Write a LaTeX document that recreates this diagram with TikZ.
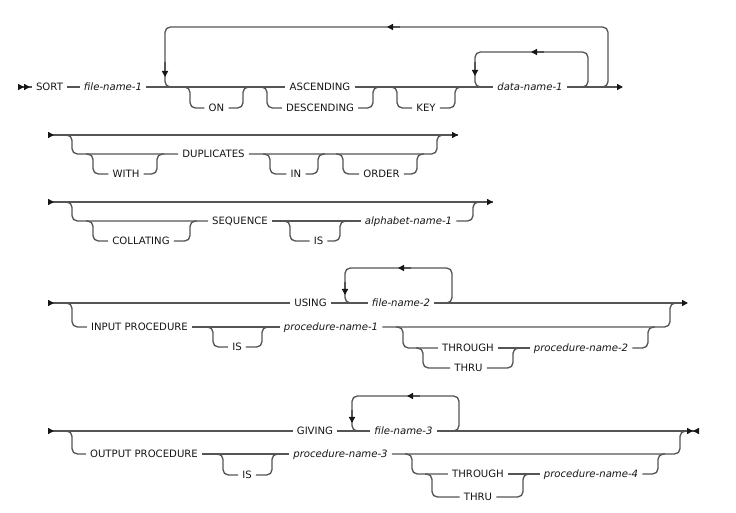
\documentclass[tikz,border=0pt]{standalone}
\usepackage{fontspec}
\newfontfamily\railfont{DejaVu Sans}
\usetikzlibrary{arrows.meta}
\definecolor{ink}{HTML}{161616}
\definecolor{rail}{HTML}{555555}
\tikzset{
  kw/.style={font=\railfont\fontsize{7.6}{8}\selectfont,text=ink,inner xsep=3pt,inner ysep=0pt,text height=5.5pt,text depth=0pt},
  var/.style={kw,font=\railfont\itshape\fontsize{7.6}{8}\selectfont},
  ln/.style={draw=rail,line width=1pt,rounded corners=4pt},
  railin/.style={ln,{Triangle[reversed,length=4.5pt,width=4.5pt,color=ink]}-},
  railin2/.style={ln,{Triangle[reversed,length=4.5pt,width=4.5pt,color=ink]Triangle[reversed,length=4.5pt,width=4.5pt,color=ink]}-},
  railout/.style={ln,-{Triangle[length=4.5pt,width=4.5pt,color=ink]}},
  railend/.style={ln,-{Triangle[length=4.5pt,width=4.5pt,color=ink]Triangle[reversed,length=4.5pt,width=4.5pt,color=ink]}},
  midtip/.style={ln,rounded corners=0pt,-{Triangle[length=4.5pt,width=4.5pt,color=ink]}},
}
\begin{document}
\begin{tikzpicture}[x=0.75pt,y=-0.75pt]
  \useasboundingbox (0,0) rectangle (736,513);

  \coordinate (s1) at (18,87); \coordinate (e1) at (623,87);
  \node[kw] (sort) at (49.5,87) {SORT};
  \node[var] (fn1) at (113,87) {file-name-1};
  \node[kw] (on) at (216.5,108) {ON};
  \node[kw] (asc) at (320,87) {ASCENDING};
  \node[kw] (desc) at (320,108) {DESCENDING};
  \node[kw] (key) at (426,108) {KEY};
  \node[var] (dn1) at (530,87) {data-name-1};
  \draw[railin2] (s1) -- (sort.west);
  \draw[ln] (sort.east) -- (fn1.west);
  \draw[ln] (fn1.east) -- (asc.west);
  \draw[ln] (asc.east) -- (dn1.west);
  \draw[railout] (dn1.east) -- (e1);
  \draw[ln] (183,87) -- (190,87) -- (190,108) -- (on.west);
  \draw[ln] (on.east) -- (243,108) -- (243,87) -- (250,87);
  \draw[ln] (260,87) -- (267,87) -- (267,108) -- (desc.west);
  \draw[ln] (desc.east) -- (373,108) -- (373,87) -- (380,87);
  \draw[ln] (390,87) -- (397,87) -- (397,108) -- (key.west);
  \draw[ln] (key.east) -- (455,108) -- (455,87) -- (462,87);
  \draw[ln] (580,87) -- (588,87) -- (588,52) -- (475,52) -- (475,87) -- (483,87);
  \draw[ln] (600,87) -- (608,87) -- (608,27) -- (165,27) -- (165,87) -- (173,87);
  \draw[midtip] (544,52) -- (531,52);
  \draw[midtip] (475,62) -- (475,76);
  \draw[midtip] (400,27) -- (387,27);
  \draw[midtip] (165,62) -- (165,77);

  \coordinate (s2) at (48,135); \coordinate (e2) at (458,135);
  \node[kw] (with) at (126,174) {WITH};
  \node[kw] (dup) at (213.5,154) {DUPLICATES};
  \node[kw] (in) at (296,174) {IN};
  \node[kw] (order) at (381.5,174) {ORDER};
  \draw[railin] (s2) -- (e2);
  \draw[railout] (440,135) -- (e2);
  \draw[ln] (65,135) -- (72,135) -- (72,154) -- (dup.west);
  \draw[ln] (dup.east) -- (437,154) -- (437,135) -- (444,135);
  \draw[ln] (86,154) -- (93,154) -- (93,174) -- (with.west);
  \draw[ln] (with.east) -- (157,174) -- (157,154) -- (164,154);
  \draw[ln] (263,154) -- (270,154) -- (270,174) -- (in.west);
  \draw[ln] (in.east) -- (318,174) -- (318,154) -- (325,154);
  \draw[ln] (336,154) -- (343,154) -- (343,174) -- (order.west);
  \draw[ln] (order.east) -- (417,174) -- (417,154) -- (424,154);

  \coordinate (s3) at (48,202); \coordinate (e3) at (493,202);
  \node[kw] (coll) at (141,241) {COLLATING};
  \node[kw] (seq) at (240,221) {SEQUENCE};
  \node[kw] (is1) at (318.5,241) {IS};
  \node[var] (an1) at (408.5,221) {alphabet-name-1};
  \draw[railin] (s3) -- (e3);
  \draw[railout] (476,202) -- (e3);
  \draw[ln] (65,202) -- (72,202) -- (72,221) -- (seq.west);
  \draw[ln] (seq.east) -- (an1.west);
  \draw[ln] (an1.east) -- (473,221) -- (473,202) -- (480,202);
  \draw[ln] (86,221) -- (93,221) -- (93,241) -- (coll.west);
  \draw[ln] (coll.east) -- (190,241) -- (190,221) -- (197,221);
  \draw[ln] (283,221) -- (290,221) -- (290,241) -- (is1.west);
  \draw[ln] (is1.east) -- (340,241) -- (340,221) -- (347,221);

  \coordinate (s4) at (48,303); \coordinate (e4) at (688,303);
  \node[kw] (using) at (310.5,303) {USING};
  \node[var] (fn2) at (401,303) {file-name-2};
  \node[kw] (inp) at (139.5,327) {INPUT PROCEDURE};
  \node[kw] (is2) at (237,347) {IS};
  \node[var] (pn1) at (331,327) {procedure-name-1};
  \node[kw] (thr1) at (468,348) {THROUGH};
  \node[kw] (thru1) at (468.5,368) {THRU};
  \node[var] (pn2) at (581,348) {procedure-name-2};
  \draw[railin] (s4) -- (using.west);
  \draw[ln] (using.east) -- (fn2.west);
  \draw[railout] (fn2.east) -- (e4);
  \draw[ln] (445,303) -- (452,303) -- (452,268) -- (345,268) -- (345,303) -- (352,303);
  \draw[midtip] (411,268) -- (398,268);
  \draw[midtip] (345,282) -- (345,295);
  \draw[ln] (65,303) -- (72,303) -- (72,327) -- (inp.west);
  \draw[ln] (inp.east) -- (pn1.west);
  \draw[ln] (pn1.east) -- (670,327) -- (670,303) -- (677,303);
  \draw[ln] (206,327) -- (213,327) -- (213,347) -- (is2.west);
  \draw[ln] (is2.east) -- (262,347) -- (262,327) -- (269,327);
  \draw[ln] (396,327) -- (403,327) -- (403,348) -- (thr1.west);
  \draw[ln] (thr1.east) -- (pn2.west);
  \draw[ln] (pn2.east) -- (648,348) -- (648,327) -- (655,327);
  \draw[ln] (416,348) -- (423,348) -- (423,368) -- (thru1.west);
  \draw[ln] (thru1.east) -- (513,368) -- (513,348) -- (520,348);

  \coordinate (s5) at (48,431); \coordinate (e5) at (699,431);
  \node[kw] (giving) at (315,431) {GIVING};
  \node[var] (fn3) at (403.5,431) {file-name-3};
  \node[kw] (outp) at (144,454) {OUTPUT PROCEDURE};
  \node[kw] (is3) at (247,475) {IS};
  \node[var] (pn3) at (340.5,454) {procedure-name-3};
  \node[kw] (thr2) at (478,474) {THROUGH};
  \node[kw] (thru2) at (478,497) {THRU};
  \node[var] (pn4) at (591,474) {procedure-name-4};
  \draw[railin] (s5) -- (giving.west);
  \draw[ln] (giving.east) -- (fn3.west);
  \draw[railend] (fn3.east) -- (e5);
  \draw[ln] (452,431) -- (459,431) -- (459,396) -- (352,396) -- (352,431) -- (359,431);
  \draw[midtip] (420,396) -- (407,396);
  \draw[midtip] (352,410) -- (352,423);
  \draw[ln] (65,431) -- (72,431) -- (72,454) -- (outp.west);
  \draw[ln] (outp.east) -- (pn3.west);
  \draw[ln] (pn3.east) -- (680,454) -- (680,431) -- (687,431);
  \draw[ln] (216,454) -- (223,454) -- (223,475) -- (is3.west);
  \draw[ln] (is3.east) -- (272,475) -- (272,454) -- (279,454);
  \draw[ln] (405,454) -- (412,454) -- (412,474) -- (thr2.west);
  \draw[ln] (thr2.east) -- (pn4.west);
  \draw[ln] (pn4.east) -- (658,474) -- (658,454) -- (665,454);
  \draw[ln] (425,474) -- (432,474) -- (432,497) -- (thru2.west);
  \draw[ln] (thru2.east) -- (523,497) -- (523,474) -- (530,474);
\end{tikzpicture}
\end{document}
